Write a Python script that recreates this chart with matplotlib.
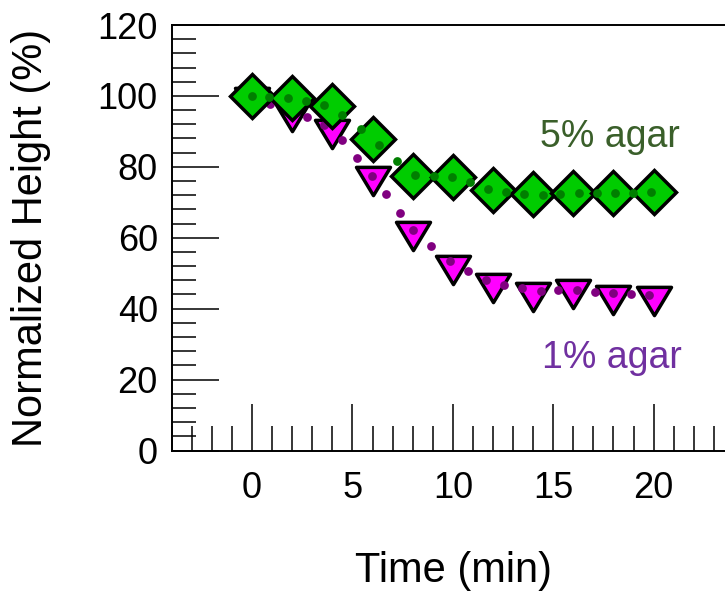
import matplotlib
matplotlib.use("Agg")
import matplotlib.pyplot as plt
from matplotlib.path import Path
from matplotlib.ticker import MultipleLocator

plt.rcParams["font.family"] = ["Liberation Sans", "DejaVu Sans"]

# measured points (every 2 min)
time = [0, 2, 4, 6, 8, 10, 12, 14, 16, 18, 20]
agar5 = [100, 99.4, 97.3, 87.9, 77.4, 77.2, 73.6, 72.3, 72.5, 72.6, 72.8]
agar1 = [98.2, 94.2, 89.2, 76.0, 60.6, 51.0, 45.8, 43.4, 44.0, 42.5, 42.1]

# dense dotted traces
t5_dense = [0, 0.86, 1.79, 2.69, 3.6, 4.5, 5.42, 6.32, 7.22, 8.13, 9.04, 9.97,
            10.85, 11.75, 12.65, 13.56, 14.47, 15.36, 16.27, 17.18, 18.08, 18.98, 19.89]
h5_dense = [99.9, 99.7, 99.4, 98.6, 97.5, 94.7, 90.6, 86.3, 81.7, 77.6, 77.4, 77.1,
            75.6, 73.8, 73.0, 72.3, 72.2, 72.4, 72.5, 72.5, 72.5, 72.7, 72.9]
t1_dense = [0.91, 2.73, 3.6, 4.46, 5.21, 5.98, 6.66, 7.36, 8.02, 8.93, 9.84, 10.75,
            11.66, 12.56, 13.44, 14.38, 15.26, 16.17, 17.08, 17.97, 18.88, 19.79]
h1_dense = [97.8, 94.0, 91.7, 87.7, 82.6, 77.4, 72.3, 67.1, 62.1, 57.7, 53.4, 50.7,
            48.2, 46.8, 45.7, 45.0, 45.4, 45.4, 44.7, 44.3, 44.0, 43.8]

fig = plt.figure(figsize=(7.25, 5.93), dpi=100)
ax = fig.add_axes([0.2368, 0.2403, 0.7756, 0.7175])

tri = Path([(-1, 0.83), (1, 0.83), (0, -0.83), (0, 0)], closed=True)

ax.plot(time, agar1, linestyle="none", marker=tri, markersize=24.5,
        markerfacecolor="#ff00ff", markeredgecolor="k", markeredgewidth=2.5, zorder=2)
ax.plot(t1_dense, h1_dense, linestyle="none", marker="o", markersize=6.3,
        color="#800080", markeredgewidth=0, zorder=3)
ax.plot(time, agar5, linestyle="none", marker="D", markersize=22,
        markerfacecolor="#00cc00", markeredgecolor="k", markeredgewidth=2.5, zorder=4)
ax.plot(t5_dense, h5_dense, linestyle="none", marker="o", markersize=6.3,
        color="#007f00", markeredgewidth=0, zorder=5)

ax.text(14.33, 85.6, "5% agar", color="#3a5f2a", fontsize=27, ha="left", va="baseline")
ax.text(14.43, 23.2, "1% agar", color="#7030a0", fontsize=27, ha="left", va="baseline")

ax.set_xlim(-4, 24)
ax.set_ylim(0, 120)
ax.xaxis.set_major_locator(MultipleLocator(5))
ax.xaxis.set_minor_locator(MultipleLocator(1))
ax.yaxis.set_major_locator(MultipleLocator(20))
ax.yaxis.set_minor_locator(MultipleLocator(4))
ax.set_xticks([0, 5, 10, 15, 20])
ax.tick_params(which="both", direction="in", color="k", width=1.1, labelsize=26)
ax.tick_params(axis="x", which="major", length=34, pad=15)
ax.tick_params(axis="x", which="minor", length=18)
ax.tick_params(axis="y", which="major", length=33.5, pad=10)
ax.tick_params(axis="y", which="minor", length=17)
ax.spines["right"].set_visible(False)
for s in ["left", "bottom", "top"]:
    ax.spines[s].set_linewidth(1.4)

fig.text(31 / 725, 0.5995, "Normalized Height (%)", rotation=90, fontsize=30,
         ha="center", va="center")
fig.text(453 / 725, 0.0186, "Time (min)", fontsize=30, ha="center", va="baseline")

fig.savefig("out.png", dpi=100)
